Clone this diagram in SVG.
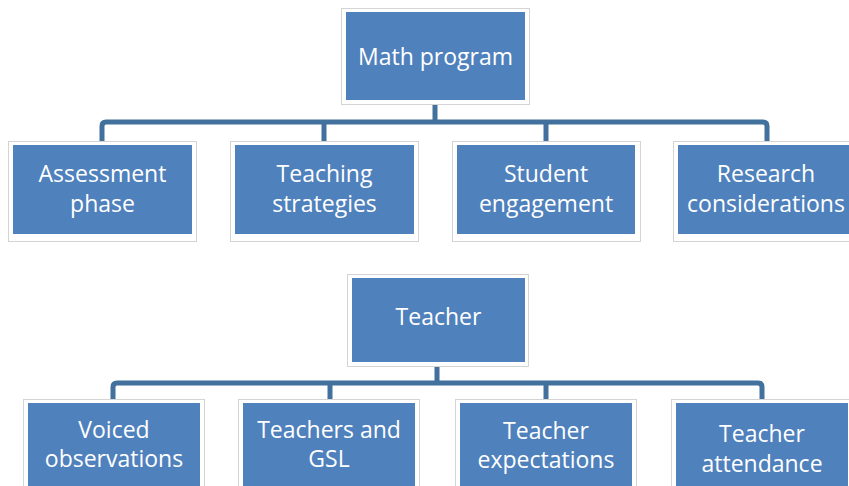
<svg xmlns="http://www.w3.org/2000/svg" width="849" height="486" viewBox="0 0 849 486">
  <style>
    .frame { fill: #ffffff; stroke: #d4d4d4; stroke-width: 1; }
    .box { fill: #4f81bd; }
    .label { fill: #ffffff; font-family: "Open Sans", "Liberation Sans", sans-serif; font-size: 23px; text-anchor: middle; }
    .link { fill: none; stroke: #41719c; stroke-width: 5; stroke-linejoin: round; }
  </style>

  <!-- connectors -->
  <g id="connectors">
    <path class="link" d="M435,104 V122"/>
    <path class="link" d="M102,141 V126 Q102,122 106,122 H763 Q767,122 767,126 V141"/>
    <path class="link" d="M324,122 V141"/>
    <path class="link" d="M546,122 V141"/>

    <path class="link" d="M437,366 V383"/>
    <path class="link" d="M113,399 V387 Q113,383 117,383 H758 Q762,383 762,387 V399"/>
    <path class="link" d="M330,383 V399"/>
    <path class="link" d="M546,383 V399"/>
  </g>

  <!-- upper tree -->
  <g id="math-program">
    <rect class="frame" x="341.5" y="8.5" width="188" height="96"/>
    <rect class="box" x="346" y="12" width="179" height="88"/>
    <text class="label" x="435.5" y="65">Math program</text>
  </g>
  <g id="assessment-phase">
    <rect class="frame" x="8.5" y="141.5" width="188" height="100"/>
    <rect class="box" x="13" y="145" width="179" height="89"/>
    <text class="label" x="102.5" y="182">Assessment</text>
    <text class="label" x="102.5" y="212">phase</text>
  </g>
  <g id="teaching-strategies">
    <rect class="frame" x="230.5" y="141.5" width="188" height="100"/>
    <rect class="box" x="235" y="145" width="179" height="89"/>
    <text class="label" x="324.5" y="182">Teaching</text>
    <text class="label" x="324.5" y="212">strategies</text>
  </g>
  <g id="student-engagement">
    <rect class="frame" x="452.5" y="141.5" width="188" height="100"/>
    <rect class="box" x="457" y="145" width="178" height="89"/>
    <text class="label" x="546" y="182">Student</text>
    <text class="label" x="546" y="212">engagement</text>
  </g>
  <g id="research-considerations">
    <rect class="frame" x="673.5" y="141.5" width="188" height="100"/>
    <rect class="box" x="678" y="145" width="179" height="89"/>
    <text class="label" x="766" y="182">Research</text>
    <text class="label" x="766" y="212">considerations</text>
  </g>

  <!-- lower tree -->
  <g id="teacher">
    <rect class="frame" x="347.5" y="274.5" width="181" height="92"/>
    <rect class="box" x="352" y="278" width="173" height="84"/>
    <text class="label" x="438.5" y="325">Teacher</text>
  </g>
  <g id="voiced-observations">
    <rect class="frame" x="23.5" y="399.5" width="181" height="100"/>
    <rect class="box" x="28" y="403" width="172" height="90"/>
    <text class="label" x="114" y="438">Voiced</text>
    <text class="label" x="114" y="467">observations</text>
  </g>
  <g id="teachers-and-gsl">
    <rect class="frame" x="238.5" y="399.5" width="181" height="100"/>
    <rect class="box" x="243" y="403" width="172" height="90"/>
    <text class="label" x="329" y="438">Teachers and</text>
    <text class="label" x="329" y="467">GSL</text>
  </g>
  <g id="teacher-expectations">
    <rect class="frame" x="455.5" y="399.5" width="181" height="100"/>
    <rect class="box" x="460" y="403" width="172" height="90"/>
    <text class="label" x="546" y="439">Teacher</text>
    <text class="label" x="546" y="468">expectations</text>
  </g>
  <g id="teacher-attendance">
    <rect class="frame" x="671.5" y="399.5" width="181" height="100"/>
    <rect class="box" x="676" y="403" width="172" height="90"/>
    <text class="label" x="762" y="442">Teacher</text>
    <text class="label" x="762" y="472">attendance</text>
  </g>
</svg>
